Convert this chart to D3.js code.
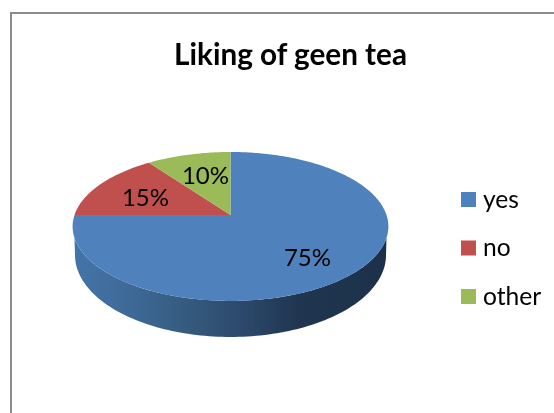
<!DOCTYPE html>
<html>
<head>
<meta charset="utf-8">
<script src="https://cdn.jsdelivr.net/npm/d3@7"></script>
<style>
html,body{margin:0;padding:0;background:#fff;overflow:hidden}
svg{display:block;filter:blur(0.45px)}
text{font-family:Lato,"Open Sans",sans-serif;fill:#000}
</style>
</head>
<body>
<svg id="c" width="554" height="413"></svg>
<script>
const titleText = "Liking of geen tea";
const categories = ["yes", "no", "other"];
const values = [75, 15, 10];
const colors = ["#4f81bd", "#c0504d", "#9bbb59"];

// layout
const W = 554, H = 413;
const cx = 230.5, cy = 215;
const rx = 156, ry = 72.7, persp = 0.154;
const baseDy = 27.4, baseSx = 0.985, baseSy = 1.1;
const labelOffsets = [[77, 43], [-85, -17], [-25, -39]];

const svg = d3.select("#c");

// frame
svg.append("path")
  .attr("d", `M11,${H}V13H${W}`)
  .attr("fill", "none").attr("stroke", "#8c8c8c").attr("stroke-width", 2);

// title
svg.append("text").attr("x", 290.5).attr("y", 65)
  .attr("text-anchor", "middle").attr("font-size", 29.7).attr("font-weight", 700)
  .text(titleText);

// perspective projection of a point on the unit disc (angle clockwise from top)
function project(a, sx = 1, sy = 1, dy = 0) {
  const u = Math.sin(a), v = Math.cos(a);
  const k = 1 + persp * v;
  return [cx + sx * rx * u / k, cy + dy - sy * ry * v / k];
}
const line = d3.line();
const deg = Math.PI / 180;

const arcs = d3.pie().sort(null).value(d => d)(values);

// side gradient
const grad = svg.append("defs").append("linearGradient")
  .attr("id", "side").attr("gradientUnits", "userSpaceOnUse")
  .attr("x1", cx - rx).attr("x2", cx + rx).attr("y1", 0).attr("y2", 0);
[[0, "#4474a8"], [0.18, "#3e6997"], [0.4, "#335779"], [0.53, "#2c4a6e"], [0.72, "#20354f"], [1, "#1c3149"]]
  .forEach(([o, c]) => grad.append("stop").attr("offset", o).attr("stop-color", c));

// side wall: visible front part, between the rim and the base outline
const sweep = (from, to) => d3.range(0, 121).map(i => (from + (to - from) * i / 120) * deg);
const sidePts = sweep(107.5, 252.5).map(a => project(a))
  .concat(sweep(261.1, 98.9).map(a => project(a, baseSx, baseSy, baseDy)));
svg.append("path").attr("d", line(sidePts) + "Z").attr("fill", "url(#side)");

// top slices
arcs.forEach((d, i) => {
  const n = Math.max(2, Math.ceil((d.endAngle - d.startAngle) * 60));
  const pts = d3.range(n + 1).map(j => project(d.startAngle + (d.endAngle - d.startAngle) * j / n));
  svg.append("path")
    .attr("d", line([[cx, cy], ...pts]) + "Z")
    .attr("fill", colors[i]);
});

// data labels
values.forEach((v, i) => {
  svg.append("text")
    .attr("x", cx + labelOffsets[i][0]).attr("y", cy + labelOffsets[i][1])
    .attr("dy", "0.35em").attr("text-anchor", "middle").attr("font-size", 24)
    .text(v + "%");
});

// legend
const legendY = d3.scalePoint().domain(categories).range([199.5, 296.5]);
categories.forEach((c, i) => {
  svg.append("rect")
    .attr("x", 461).attr("y", legendY(c) - 7.5).attr("width", 15).attr("height", 15)
    .attr("fill", colors[i]);
  svg.append("text")
    .attr("x", 483).attr("y", legendY(c) + 8).attr("font-size", 24.6).text(c);
});
</script>
</body>
</html>
